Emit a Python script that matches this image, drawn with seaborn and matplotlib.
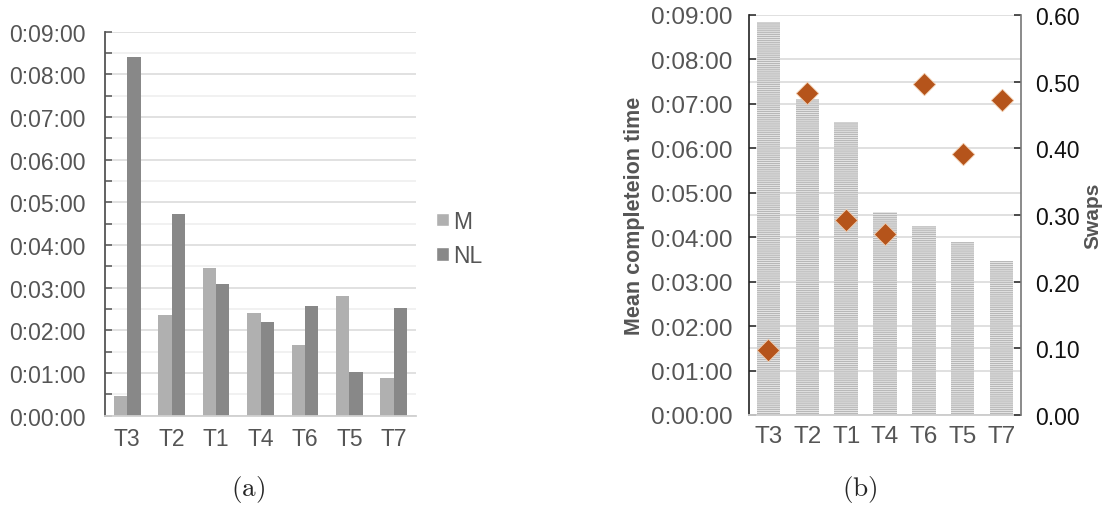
import matplotlib
matplotlib.use("Agg")
import matplotlib.pyplot as plt
from matplotlib.ticker import FuncFormatter, FixedLocator
from matplotlib.patches import Patch
import seaborn as sns
import pandas as pd

# Task order as shown on both panels
tasks = ["T3", "T2", "T1", "T4", "T6", "T5", "T7"]

# (a) completion time per condition, in seconds
time_m = [28, 142, 208, 144, 100, 169, 53]
time_nl = [504, 284, 185, 132, 154, 61, 152]

# (b) mean completion time (seconds) and mean number of swaps
mean_time = [531, 427, 395, 274, 255, 233, 208]
swaps = [0.098, 0.483, 0.293, 0.272, 0.497, 0.392, 0.473]

sns.set_style("white")
plt.rcParams["font.family"] = ["Liberation Sans", "DejaVu Sans"]
plt.rcParams["mathtext.fontset"] = "cm"
plt.rcParams["hatch.linewidth"] = 0.85

LABEL_GREY = "#555555"
FS = 16.5
FS_B = 17.5


def hms(v, _pos=None):
    v = int(round(v))
    return f"{v // 3600}:{(v % 3600) // 60:02d}:{v % 60:02d}"


fig = plt.figure(figsize=(11.09, 5.10), dpi=100)

# ---------------- panel (a) ----------------
ax = fig.add_axes([105 / 1109, 1 - 416.7 / 510, 311 / 1109, 384 / 510])
df_a = pd.DataFrame({
    "task": tasks * 2,
    "seconds": time_m + time_nl,
    "group": ["M"] * len(tasks) + ["NL"] * len(tasks),
})
sns.barplot(data=df_a, x="task", y="seconds", hue="group",
            palette=["#b0b0b0", "#888888"], saturation=1, width=0.6,
            gap=0, linewidth=0, ax=ax, legend=False)
ax.set_ylim(0, 540)
ax.set_xlim(-0.5, len(tasks) - 0.5)
ax.yaxis.set_major_locator(FixedLocator(range(0, 541, 60)))
ax.yaxis.set_minor_locator(FixedLocator(range(30, 541, 60)))
ax.yaxis.set_major_formatter(FuncFormatter(hms))
ax.set_axisbelow(True)
ax.grid(axis="y", which="major", color="#dedede", linewidth=1.3)
ax.grid(axis="y", which="minor", color="#f0f0f0", linewidth=1.3)
ax.tick_params(axis="y", which="both", direction="in", length=5, width=1.1,
               color=LABEL_GREY, labelsize=FS, labelcolor=LABEL_GREY, pad=14, left=True)
ax.tick_params(axis="x", length=0, labelsize=FS, labelcolor=LABEL_GREY, pad=8)
ax.set_xlabel("")
ax.set_ylabel("")
for s in ["top", "right"]:
    ax.spines[s].set_visible(False)
ax.spines["left"].set_color(LABEL_GREY)
ax.spines["left"].set_linewidth(1.3)
ax.spines["bottom"].set_color("#d0d0d0")
ax.spines["bottom"].set_linewidth(1.3)

handles = [Patch(facecolor="#b0b0b0", label="M"), Patch(facecolor="#888888", label="NL")]
leg = ax.legend(handles=handles, loc="center left", bbox_to_anchor=(1.065, 0.462),
                frameon=False, fontsize=FS, handlelength=0.55, handleheight=0.55,
                handletextpad=0.2, labelspacing=0.5, borderaxespad=0, borderpad=0)
for t in leg.get_texts():
    t.set_color(LABEL_GREY)

fig.text(248 / 1109, 1 - 490 / 510, r"$\mathrm{(a)}$", ha="center", va="center", fontsize=19.5)

# ---------------- panel (b) ----------------
bx = fig.add_axes([749 / 1109, 1 - 416 / 510, 272 / 1109, 400 / 510])
df_b = pd.DataFrame({"task": tasks, "seconds": mean_time})
sns.barplot(data=df_b, x="task", y="seconds", color="#e9e9e9", saturation=1,
            width=0.6, linewidth=0, ax=bx)
for p in bx.patches:
    p.set_hatch("--------")
    p.set_edgecolor("#b8b8b8")
    p.set_linewidth(0)
bx.set_ylim(0, 540)
bx.set_xlim(-0.5, len(tasks) - 0.5)
bx.yaxis.set_major_locator(FixedLocator(range(0, 541, 60)))
# swap gridlines expressed in seconds (0.1 swaps <-> 90 s)
bx.yaxis.set_minor_locator(FixedLocator([90, 270, 450]))
bx.yaxis.set_major_formatter(FuncFormatter(hms))
bx.set_axisbelow(True)
bx.grid(axis="y", which="both", color="#dddddd", linewidth=1.3)
bx.tick_params(axis="y", which="major", direction="in", length=5, width=1.1,
               color="#222222", labelsize=FS_B, labelcolor=LABEL_GREY, pad=12, left=True)
bx.tick_params(axis="y", which="minor", length=0)
bx.tick_params(axis="x", length=0, labelsize=FS_B, labelcolor=LABEL_GREY, pad=7)
bx.set_xlabel("")
bx.set_ylabel("Mean completeion time", fontsize=15.5, fontweight="bold",
              color=LABEL_GREY, labelpad=4)
bx.spines["top"].set_visible(False)
bx.spines["right"].set_visible(False)
bx.spines["left"].set_color("#222222")
bx.spines["left"].set_linewidth(1.2)
bx.spines["bottom"].set_color("#cccccc")
bx.spines["bottom"].set_linewidth(1.3)

tx = bx.twinx()
df_s = pd.DataFrame({"task": tasks, "swaps": swaps})
sns.scatterplot(data=df_s, x="task", y="swaps", marker="D", s=130,
                color="#b5541b", edgecolor="#f0c8a8", linewidth=0.6, ax=tx, zorder=5)
tx.set_ylim(0, 0.6)
tx.set_yticks([0, 0.1, 0.2, 0.3, 0.4, 0.5, 0.6])
tx.yaxis.set_major_formatter(FuncFormatter(lambda v, _p: f"{v:.2f}"))
tx.tick_params(axis="y", direction="in", length=5, width=1.1, color="#222222",
               labelsize=FS, labelcolor="#111111", pad=10, right=True)
tx.set_ylabel("Swaps", fontsize=15, fontweight="bold", color=LABEL_GREY, labelpad=3)
tx.set_xlabel("")
for s in ["top", "left", "bottom"]:
    tx.spines[s].set_visible(False)
tx.spines["right"].set_color("#777777")
tx.spines["right"].set_linewidth(1.2)

fig.text(860 / 1109, 1 - 490 / 510, r"$\mathrm{(b)}$", ha="center", va="center", fontsize=19.5)

fig.savefig("out.png", dpi=100, facecolor="white")
